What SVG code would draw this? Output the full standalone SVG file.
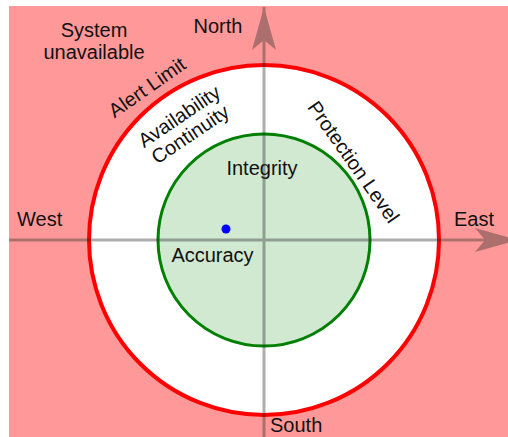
<svg xmlns="http://www.w3.org/2000/svg" width="508" height="437" viewBox="0 0 508 437">
  <style>
    text { font-family: "Liberation Sans", Arial, sans-serif; font-size: 20px; fill: #111; }
    .mid { text-anchor: middle; }
    .axis { stroke: #2b2b2b; stroke-width: 3; fill: none; }
  </style>
  <defs>
    <marker id="stealth" markerUnits="userSpaceOnUse" viewBox="-44 -13 45 26" markerWidth="45" markerHeight="26" refX="0" refY="0" orient="auto">
      <path d="M0,0 L-43,-12 L-33,0 L-43,12 Z" fill="#2b2b2b"/>
    </marker>
  </defs>

  <rect x="0" y="0" width="508" height="437" fill="#ffffff"/>

  <!-- unavailable region -->
  <g id="unavailable">
    <rect x="9" y="6" width="499" height="431" fill="#ff9999"/>
    <text class="mid" x="94" y="37">System</text>
    <text class="mid" x="94" y="59">unavailable</text>
  </g>

  <!-- alert limit boundary -->
  <g id="alert-limit">
    <circle cx="264" cy="240" r="175" fill="#ffffff" stroke="#ff0000" stroke-width="4"/>
    <text class="mid" transform="translate(151,93) rotate(-35)">Alert Limit</text>
  </g>

  <g id="availability">
    <text class="mid" transform="translate(183,122) rotate(-34)">Availability</text>
    <text class="mid" transform="translate(194,140) rotate(-34)">Continuity</text>
  </g>

  <g id="protection-level">
    <circle cx="264" cy="240" r="106" fill="#d1e8d1" stroke="#008000" stroke-width="3"/>
    <text class="mid" transform="translate(348,166) rotate(55)">Protection Level</text>
  </g>

  <g id="integrity">
    <text class="mid" x="262" y="175">Integrity</text>
  </g>

  <!-- axes -->
  <g id="axes" opacity="0.38">
    <line class="axis" x1="9" y1="240" x2="518" y2="240" marker-end="url(#stealth)"/>
    <line class="axis" x1="264" y1="437" x2="264" y2="7" marker-end="url(#stealth)"/>
  </g>

  <g id="accuracy">
    <circle cx="226" cy="229" r="4.5" fill="#0000ff"/>
    <text class="mid" x="212.5" y="262">Accuracy</text>
  </g>

  <g id="compass">
    <text class="mid" x="218" y="33">North</text>
    <text x="17" y="226">West</text>
    <text class="mid" x="474" y="226">East</text>
    <text x="270" y="432">South</text>
  </g>
</svg>
